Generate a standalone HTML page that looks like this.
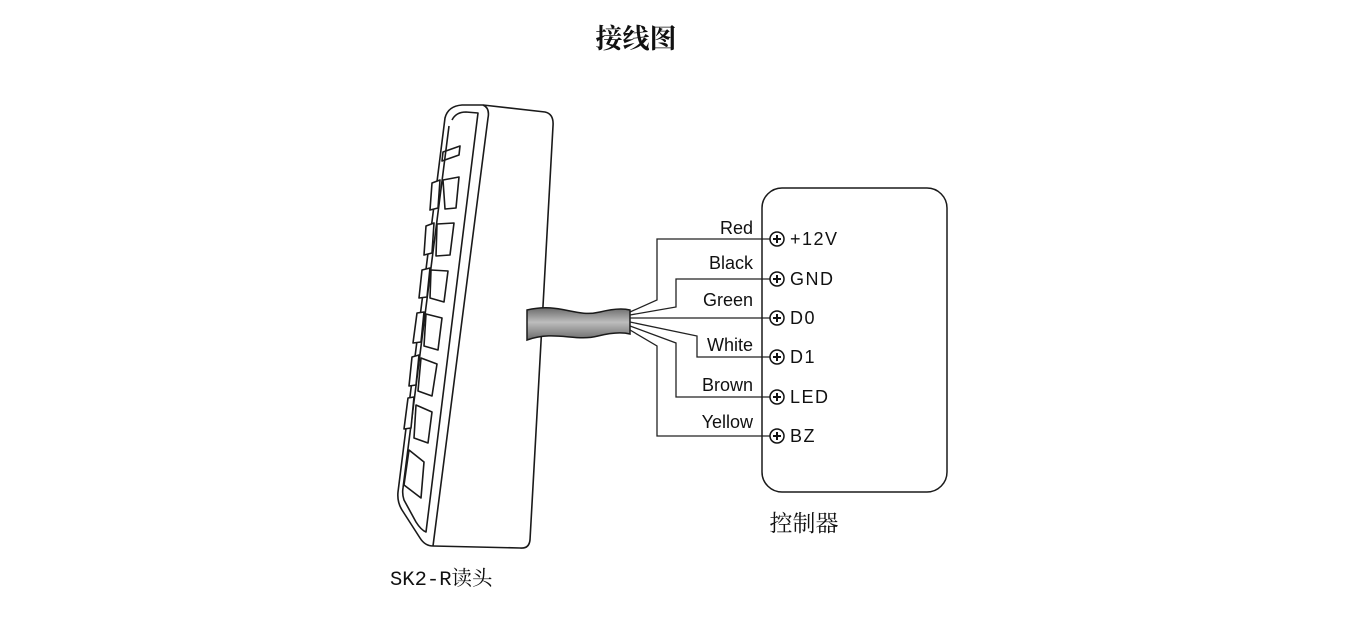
<!DOCTYPE html>
<html><head><meta charset="utf-8"><style>
html,body{margin:0;padding:0;background:#fff;width:1360px;height:624px;overflow:hidden}
</style></head><body>
<svg width="1360" height="624" viewBox="0 0 1360 624" xmlns="http://www.w3.org/2000/svg">
<defs><linearGradient id="cg" x1="0" y1="0" x2="0" y2="1">
<stop offset="0" stop-color="#6a6a6a"/><stop offset="0.45" stop-color="#bdbdbd"/><stop offset="1" stop-color="#6a6a6a"/></linearGradient></defs>
<text x="636" y="48" text-anchor="middle" font-family="'Noto Serif CJK SC','Noto Sans CJK SC',serif" font-weight="bold" font-size="27" fill="#111">接线图</text>
<g fill="none" stroke="#1a1a1a" stroke-width="1.6" stroke-linejoin="round">
<path d="M445,118 Q448,106 462,105 L483,105 L545,112 Q554,114 553,126 L530,540 Q529,549 520,548 L433,546 Q425,546 420,538 L402,510 Q397,502 398,492 Z" fill="#fff"/>
<path d="M483,105 Q490,108 488,118 L433,546"/>
<path d="M452,120 Q456,112 466,112 L478,113 L426,532 Q421,530 416,522 L404,500 Q402,494 403,488 L449,126"/>
<path d="M443,152 L460,146 L459,155 L442,161 Z"/>
<g fill="#fff">
<path d="M432,183 L440,180 L438,208 L430,210 Z"/><path d="M443,180 L459,177 L456,208 L445,209 Z"/>
<path d="M426,226 L434,223 L432,253 L424,255 Z"/><path d="M437,224 L454,223 L450,255 L436,256 Z"/>
<path d="M422,270 L430,268 L427,297 L419,298 Z"/><path d="M431,270 L448,271 L444,302 L430,298 Z"/>
<path d="M417,313 L424,312 L421,342 L413,343 Z"/><path d="M426,314 L442,318 L438,350 L424,346 Z"/>
<path d="M412,357 L419,355 L416,385 L409,386 Z"/><path d="M421,358 L437,364 L432,396 L418,391 Z"/>
<path d="M408,398 L414,397 L411,428 L404,429 Z"/><path d="M416,405 L432,412 L428,443 L414,438 Z"/>
<path d="M409,450 L424,462 L421,498 L404,485 Z"/>
</g>
</g>
<path d="M527,310 C560,302 575,318 600,312 C612,309 622,308 630,310 L630,334 C622,332 610,333 598,336 C575,342 555,330 527,340 Z" fill="url(#cg)" stroke="#1a1a1a" stroke-width="1.5"/>
<g fill="none" stroke="#222" stroke-width="1.3">
<path d="M630,312 L657,300 L657,239 L770,239"/>
<path d="M630,315 L676,307 L676,279 L770,279"/>
<path d="M630,318 L770,318"/>
<path d="M630,322 L697,336 L697,357 L770,357"/>
<path d="M630,326 L676,343 L676,397 L770,397"/>
<path d="M630,330 L657,346 L657,436 L770,436"/>
</g>
<rect x="762" y="188" width="185" height="304" rx="20" fill="none" stroke="#1a1a1a" stroke-width="1.5"/>
<g font-family="'Liberation Sans',sans-serif" font-size="18" fill="#111">
<g text-anchor="end">
<text x="753" y="234">Red</text><text x="753" y="269">Black</text><text x="753" y="306">Green</text>
<text x="753" y="351">White</text><text x="753" y="391">Brown</text><text x="753" y="428">Yellow</text>
</g>
<g letter-spacing="1.5">
<text x="790" y="245">+12V</text><text x="790" y="285">GND</text><text x="790" y="324">D0</text>
<text x="790" y="363">D1</text><text x="790" y="403">LED</text><text x="790" y="442">BZ</text>
</g>
</g>
<g stroke="#111" stroke-width="1.5" fill="#fff">
<circle cx="777" cy="239" r="7"/><circle cx="777" cy="279" r="7"/><circle cx="777" cy="318" r="7"/>
<circle cx="777" cy="357" r="7"/><circle cx="777" cy="397" r="7"/><circle cx="777" cy="436" r="7"/>
</g>
<g stroke="#111" stroke-width="2">
<path d="M773,239h8M777,235v8M773,279h8M777,275v8M773,318h8M777,314v8M773,357h8M777,353v8M773,397h8M777,393v8M773,436h8M777,432v8"/>
</g>
<text x="804" y="531" text-anchor="middle" font-family="'Noto Serif CJK SC','Noto Sans CJK SC',serif" font-size="23" fill="#111">控制器</text>
<text x="390" y="585" font-family="'Liberation Mono','Noto Serif CJK SC',monospace" font-size="20.5" fill="#111">SK2-R读头</text>
</svg>
</body></html>
